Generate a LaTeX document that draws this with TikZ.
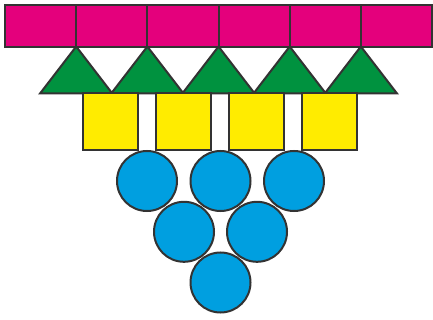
\documentclass[tikz,border=0pt]{standalone}
\usepackage{tikz}
\usetikzlibrary{positioning}
\definecolor{outline}{HTML}{333333}
\definecolor{barpink}{HTML}{E4007C}
\definecolor{trigreen}{HTML}{00923F}
\definecolor{sqyellow}{HTML}{FFEC00}
\definecolor{ballblue}{HTML}{009FE0}
\tikzset{
  pinkbar/.style={draw=outline,fill=barpink,line width=2pt,inner sep=0pt,
                  minimum width=71.17pt,minimum height=41.5pt},
  greentri/.style={draw=outline,fill=trigreen,line width=2pt,line join=miter},
  yellowsq/.style={draw=outline,fill=sqyellow,line width=2pt,inner sep=0pt,
                   minimum width=55pt,minimum height=57pt},
  blueball/.style={circle,draw=outline,fill=ballblue,line width=2pt,inner sep=0pt,
                   minimum size=60pt}
}
\begin{document}
\begin{tikzpicture}[x=1pt,y=-1pt]
    \path[use as bounding box] (0,0) rectangle (433,320);
    % top row of bars
    \foreach \i in {0,...,5}
      \node[pinkbar] (bar\i) at ({40.6+71.17*\i},25.8) {};
    % triangles hanging from the bar joints
    \foreach \k in {1,...,5}
      \draw[greentri] ({5+71.17*\k},46.5) coordinate (tip\k)
        -- ++(36,46.8) -- ++(-72,0) -- cycle;
    % squares
    \node[yellowsq] (sqA) at (110.5,122) {};
    \node[yellowsq] (sqB) at (183,122) {};
    \node[yellowsq] (sqC) at (256,122) {};
    \node[yellowsq] (sqD) at (329,122) {};
    % balls
    \node[blueball] (ballA) at (147,181) {};
    \node[blueball] (ballB) at (220.5,181) {};
    \node[blueball] (ballC) at (294,181) {};
    \node[blueball] (ballD) at (184,231.8) {};
    \node[blueball] (ballE) at (257,231.8) {};
    \node[blueball] (ballF) at (220.5,282.5) {};
\end{tikzpicture}
\end{document}
